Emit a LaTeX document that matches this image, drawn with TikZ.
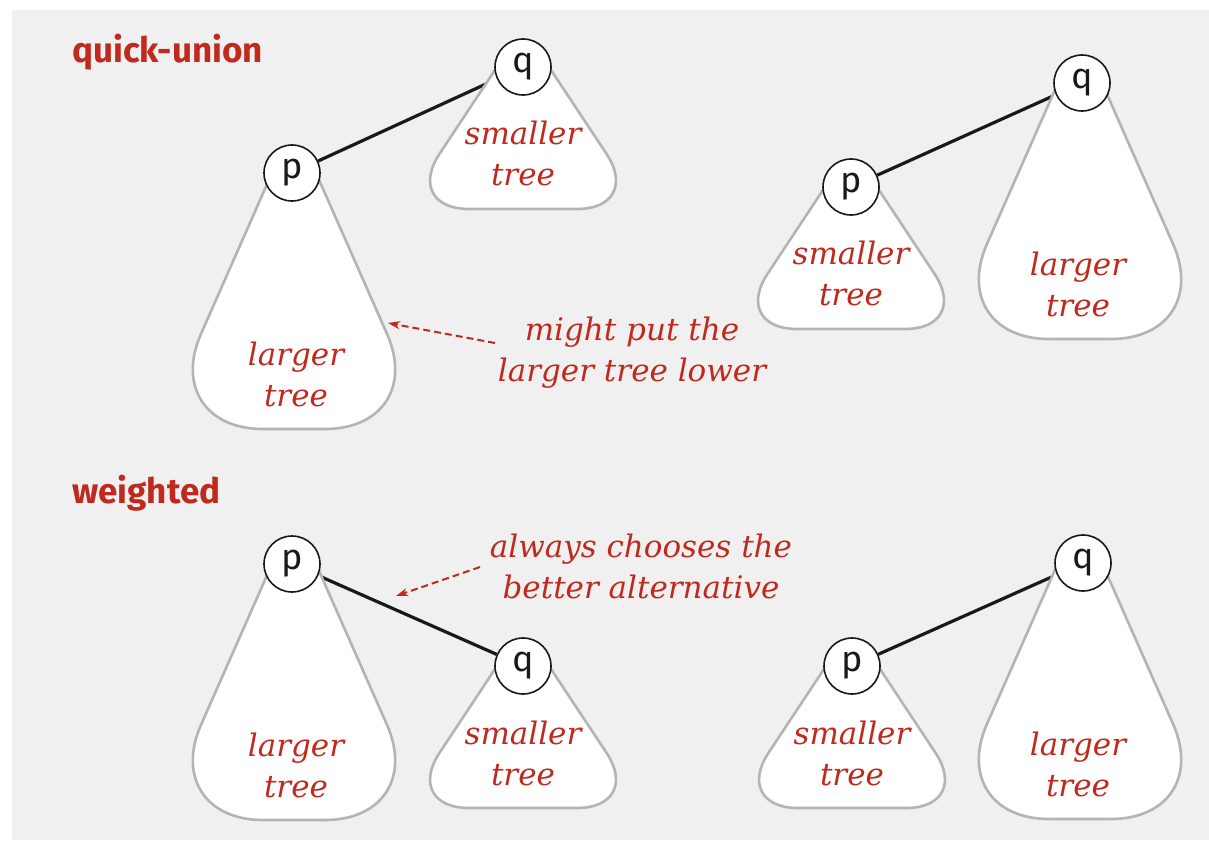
\documentclass[tikz,border=0pt]{standalone}
\usepackage{fontspec}
\setmainfont{DejaVu Serif}
\newfontfamily\headfont{Fira Sans}
\usetikzlibrary{arrows.meta,calc}
\definecolor{panelgray}{RGB}{240,240,240}
\definecolor{notered}{RGB}{192,42,30}
\definecolor{treegray}{RGB}{180,180,184}
\definecolor{inkblack}{RGB}{25,25,25}
\pgfdeclarelayer{panel}
\pgfdeclarelayer{under}
\pgfsetlayers{panel,under,main}

% \subtree{cx}{cy}{half top}{height}{half bottom}{corner radius}
% A white trapezoid hanging below a root, with rounded bottom corners.
\newcommand\subtree[6]{%
  \coordinate (tl) at (#1-#3,#2);
  \coordinate (tr) at (#1+#3,#2);
  \coordinate (bl) at (#1-#5,#2+#4);
  \coordinate (br) at (#1+#5,#2+#4);
  \filldraw[treeshape] (tl)
    -- ($(bl)!#6pt!(tl)$)
    .. controls ($(bl)!#6*0.4477pt!(tl)$) and ($(bl)!#6*0.4477pt!(br)$) .. ($(bl)!#6pt!(br)$)
    -- ($(br)!#6pt!(bl)$)
    .. controls ($(br)!#6*0.4477pt!(bl)$) and ($(br)!#6*0.4477pt!(tr)$) .. ($(br)!#6pt!(tr)$)
    -- (tr) -- cycle;}
\newcommand\largetree[2]{\subtree{#1}{#2}{22}{256}{135}{104}}
\newcommand\smalltree[2]{\subtree{#1}{#2}{26}{142}{120}{66}}

\begin{document}
\begin{tikzpicture}[x=1pt,y=-1pt,
  site/.style={circle,draw=inkblack,line width=1.6pt,fill=white,minimum size=56pt,
    inner sep=0pt,text=inkblack,font=\headfont\fontsize{36}{36}\selectfont},
  treeshape/.style={fill=white,draw=treegray,line width=2.6pt},
  treelabel/.style={align=center,anchor=base,text=notered,
    font=\itshape\fontsize{31}{41}\selectfont},
  heading/.style={anchor=base west,inner sep=0pt,text=notered,
    font=\headfont\bfseries\fontsize{35}{35}\selectfont},
  note/.style={align=center,anchor=base,inner sep=0pt,text=notered,
    font=\itshape\fontsize{31}{41}\selectfont},
  link/.style={draw=inkblack,line width=3.2pt},
  pointer/.style={draw=notered,line width=2pt,dash pattern=on 7pt off 4pt,
    -{Stealth[length=12pt,width=8pt]}}
]
\useasboundingbox (0,0) rectangle (1209,840);
\begin{pgfonlayer}{panel}
  \fill[white] (0,0) rectangle (1209,840);
  \fill[panelgray] (12,10) rectangle (1209,840);
\end{pgfonlayer}

% headings
\node[heading] (quhead) at (72,63) {quick-union};
\node[heading] (wthead) at (72,503) {weighted};

% roots
\node[site] (p1) at (292,173) {p};
\node[site] (q1) at (523,67)  {q};
\node[site] (p2) at (851,187) {p};
\node[site] (q2) at (1082,83) {q};
\node[site] (p3) at (292,564) {p};
\node[site] (q3) at (523,666) {q};
\node[site] (p4) at (852,666) {p};
\node[site] (q4) at (1083,563) {q};

\begin{pgfonlayer}{under}
  % links between the two roots
  \draw[link] (p1) -- (q1);
  \draw[link] (p2) -- (q2);
  \draw[link] (p3) -- (q3);
  \draw[link] (p4) -- (q4);
  % the trees below each root
  \largetree{294}{173}
  \smalltree{523}{67}
  \smalltree{851}{187}
  \largetree{1080}{83}
  \largetree{294}{564}
  \smalltree{523}{666}
  \smalltree{852}{666}
  \largetree{1080}{563}
\end{pgfonlayer}

% tree captions (anchored on the baseline of the second line)
\node[treelabel] (t1) at (296,406) {larger\\tree};
\node[treelabel] (t2) at (523,185) {smaller\\tree};
\node[treelabel] (t3) at (851,305) {smaller\\tree};
\node[treelabel] (t4) at (1078,316) {larger\\tree};
\node[treelabel] (t5) at (296,797) {larger\\tree};
\node[treelabel] (t6) at (523,785) {smaller\\tree};
\node[treelabel] (t7) at (852,785) {smaller\\tree};
\node[treelabel] (t8) at (1078,796) {larger\\tree};

% remarks
\node[note] (mightnote) at (632,381) {might put the\\larger tree lower};
\node[note] (alwaysnote) at (641,598) {always chooses the\\better alternative};
\coordinate (mighttail) at (495,343);
\coordinate (mighttip) at (388,323);
\coordinate (alwaystail) at (480,567);
\coordinate (alwaystip) at (396,596);
\draw[pointer] (mighttail) -- (mighttip);
\draw[pointer] (alwaystail) -- (alwaystip);
\end{tikzpicture}
\end{document}
